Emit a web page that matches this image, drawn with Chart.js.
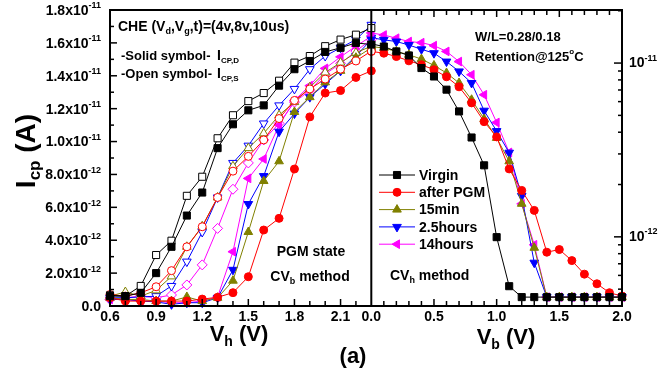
<!DOCTYPE html>
<html>
<head>
<meta charset="utf-8">
<script src="https://cdn.jsdelivr.net/npm/chart.js@4.4.1/dist/chart.umd.min.js"></script>
<style>
  html, body { margin: 0; padding: 0; background: #fff; }
  #wrap { position: relative; width: 672px; height: 376px; }
</style>
</head>
<body>
<div id="wrap"><canvas id="chart" width="672" height="376"></canvas></div>
<script>
'use strict';

// x values of both panels (V)
const vh = [0.6, 0.7, 0.8, 0.9, 1.0, 1.1, 1.2, 1.3, 1.4, 1.5, 1.6, 1.7, 1.8, 1.9, 2.0, 2.1, 2.2, 2.3];
const vb = [0.0, 0.1, 0.2, 0.3, 0.4, 0.5, 0.6, 0.7, 0.8, 0.9, 1.0, 1.1, 1.2, 1.3, 1.4, 1.5, 1.6, 1.7, 1.8, 1.9, 2.0];

const seriesNames = ['Virgin', 'after PGM', '15min', '2.5hours', '14hours'];
const seriesColors = ['#000000', '#ff0000', '#808000', '#0000ff', '#ff00ff'];

// left panel (CVb method), Icp in units of 1e-12 A
// D = solid symbols (Icp,D), S = open symbols (Icp,S)
const virginD = [0.6, 0.6, 0.8, 2.0, 3.6, 5.5, 6.9, 9.6, 11.05, 11.9, 12.2, 13.4, 14.4, 14.9, 15.45, 15.7, 16.0, 15.9];
const virginS = [0.65, 0.6, 1.22, 3.1, 3.97, 6.7, 7.86, 10.2, 11.6, 12.46, 12.95, 13.7, 14.8, 15.2, 15.8, 16.2, 16.5, 16.9];
const pgmD = [0.5, 0.3, 0.3, 0.3, 0.3, 0.3, 0.42, 0.53, 0.81, 1.78, 4.62, 5.33, 8.33, 11.5, 12.95, 13.1, 13.9, 14.3];
const pgmS = [0.7, 0.6, 0.8, 1.17, 2.15, 3.6, 4.82, 6.6, 8.2, 9.1, 10.1, 11.4, 12.5, 13.2, 13.8, 14.4, 14.9, 15.5];
const min15D = [0.5, 0.4, 0.4, 0.3, 0.3, 0.55, 0.3, 0.5, 1.54, 4.5, 7.6, 8.8, 11.8, 12.7, 13.6, 14.3, 15.1, 15.7];
const min15S = [0.6, 0.85, 0.6, 0.95, 1.8, 3.6, 4.85, 6.6, 8.5, 9.6, 10.5, 11.6, 12.4, 13.3, 14.2, 14.8, 15.4, 15.8];
const h25D = [0.4, 0.4, 0.3, 0.25, 0.1, 0.2, 0.2, 0.5, 2.2, 6.2, 7.9, 10.6, 11.7, 12.7, 13.5, 14.3, 15.2, 16.2];
const h25S = [0.5, 0.5, 0.55, 0.6, 1.22, 2.7, 4.5, 6.6, 8.7, 9.75, 11.1, 12.2, 13.2, 14.4, 15.2, 15.7, 16.2, 17.1];
const h14D = [0.4, 0.4, 0.3, 0.3, 0.2, 0.2, 0.3, 0.55, 3.3, 7.76, 8.94, 11.0, 12.5, 13.4, 14.45, 15.15, 15.8, 16.4];
const h14S = [0.4, 0.5, 0.6, 0.5, 0.67, 1.28, 2.5, 4.72, 7.1, 8.7, 10.1, 11.1, 12.4, 13.1, 14.1, 14.75, 15.5, 16.2];

// right panel (CVh method), Icp in A, log axis
const virginB = [1.29e-11, 1.245e-11, 1.167e-11, 1.106e-11, 9.36e-12, 8.37e-12, 7.03e-12, 5.27e-12, 3.73e-12, 2.58e-12, 9.96e-13, 5.2e-13, 4.5e-13, 4.5e-13, 4.5e-13, 4.5e-13, 4.5e-13, 4.5e-13, 4.5e-13, 4.5e-13, 4.5e-13];
const pgmB = [1.167e-11, 1.14e-11, 1.09e-11, 1.03e-11, 9.78e-12, 9.15e-12, 8.34e-12, 7.3e-12, 5.9e-12, 4.6e-12, 3.76e-12, 2.46e-12, 1.85e-12, 1.42e-12, 8.16e-13, 8.45e-13, 7.3e-13, 6.1e-13, 5.37e-13, 4.77e-13, 4.56e-13];
const min15B = [1.245e-11, 1.22e-11, 1.167e-11, 1.116e-11, 1.054e-11, 9.69e-12, 8.77e-12, 7.68e-12, 6.15e-12, 4.77e-12, 3.71e-12, 2.72e-12, 1.55e-12, 8.65e-13, 4.5e-13, 4.5e-13, 4.5e-13, 4.5e-13, 4.5e-13, 4.5e-13, 4.5e-13];
const h25B = [1.40e-11, 1.36e-11, 1.33e-11, 1.27e-11, 1.20e-11, 1.14e-11, 1.02e-11, 8.95e-12, 7.68e-12, 5.32e-12, 4.06e-12, 3.05e-12, 1.72e-12, 7.1e-13, 4.5e-13, 4.5e-13, 4.5e-13, 4.5e-13, 4.5e-13, 4.5e-13, 4.5e-13];
const h14B = [1.49e-11, 1.45e-11, 1.39e-11, 1.33e-11, 1.31e-11, 1.26e-11, 1.167e-11, 1.02e-11, 8.57e-12, 6.57e-12, 4.55e-12, 3.06e-12, 1.55e-12, 9.0e-13, 4.5e-13, 4.5e-13, 4.5e-13, 4.5e-13, 4.5e-13, 4.5e-13, 4.5e-13];

// tick labels
const vhTickLabels = ['0.6', '0.9', '1.2', '1.5', '1.8', '2.1'];
const vbTickLabels = ['0.0', '0.5', '1.0', '1.5', '2.0'];
const icpTicks = [0, 2, 4, 6, 8, 10, 12, 14, 16, 18];
const icpTickMant = ['0.0', '2.0x10', '4.0x10', '6.0x10', '8.0x10', '1.0x10', '1.2x10', '1.4x10', '1.6x10', '1.8x10'];
const icpTickExp = ['', '-12', '-12', '-12', '-12', '-11', '-11', '-11', '-11', '-11'];
const logTicks = [1e-12, 1e-11];
const logTickExp = ['-12', '-11'];

// marker shapes: [style, radius, rotation]
const solidMarks = [['rect', 5, 0], ['circle', 4, 0], ['triangle', 5, 0], ['triangle', 5, 180], ['triangle', 5, -90]];
const openMarks = [['rect', 5, 0], ['circle', 4, 0], ['triangle', 5, 0], ['triangle', 5, 180], ['rectRot', 5, 0]];

const FONT = 'Arial, "Liberation Sans", sans-serif';

function pts(xs, ys) {
  return xs.map((x, i) => ({ x: x, y: ys[i] }));
}

function makeSet(name, xs, ys, i, mark, filled, xId, yId) {
  return {
    label: name,
    data: pts(xs, ys),
    xAxisID: xId,
    yAxisID: yId,
    borderColor: seriesColors[i],
    borderWidth: 1,
    pointStyle: mark[0],
    pointRadius: mark[1],
    pointRotation: mark[2],
    pointBorderColor: seriesColors[i],
    pointBackgroundColor: filled ? seriesColors[i] : '#ffffff',
    pointBorderWidth: 1,
    tension: 0,
    clip: false
  };
}

const leftD = [virginD, pgmD, min15D, h25D, h14D];
const leftS = [virginS, pgmS, min15S, h25S, h14S];
const rightB = [virginB, pgmB, min15B, h25B, h14B];

let datasets = [];
for (let i = 0; i < 5; i++) {
  datasets.push(makeSet(seriesNames[i] + ' D', vh, leftD[i], i, solidMarks[i], true, 'xL', 'yL'));
  datasets.push(makeSet(seriesNames[i] + ' S', vh, leftS[i], i, openMarks[i], false, 'xL', 'yL'));
}
for (let i = 0; i < 5; i++) {
  datasets.push(makeSet(seriesNames[i], vb, rightB[i], i, solidMarks[i], true, 'xR', 'yR'));
}

function setFont(ctx, size) {
  ctx.font = 'bold ' + size + 'px ' + FONT;
}

// draw text made of parts [text, size, dy]
function richText(ctx, parts, x, y, align) {
  let total = 0;
  const widths = parts.map(p => {
    setFont(ctx, p[1]);
    const w = ctx.measureText(p[0]).width;
    total += w;
    return w;
  });
  let cx = x;
  if (align === 'right') cx = x - total;
  else if (align === 'center') cx = x - total / 2;
  ctx.textAlign = 'left';
  ctx.textBaseline = 'middle';
  parts.forEach((p, i) => {
    setFont(ctx, p[1]);
    ctx.fillText(p[0], cx, y + (p[2] || 0));
    cx += widths[i];
  });
}

function line(ctx, x1, y1, x2, y2) {
  ctx.beginPath();
  ctx.moveTo(x1, y1);
  ctx.lineTo(x2, y2);
  ctx.stroke();
}

const framePlugin = {
  id: 'frame',
  afterDatasetsDraw(chart) {
    const ctx = chart.ctx;
    const a = chart.chartArea;
    const xL = chart.scales.xL, xR = chart.scales.xR, yL = chart.scales.yL, yR = chart.scales.yR;
    ctx.save();
    ctx.strokeStyle = '#000';

    // inward ticks
    ctx.lineWidth = 1.5;
    for (let v = 0; v <= 18; v++) {
      const y = yL.getPixelForValue(v);
      line(ctx, a.left, y, a.left + (v % 2 === 0 ? 7 : 4), y);
    }
    for (let k = 6; k < 23; k++) {
      const x = xL.getPixelForValue(k / 10);
      line(ctx, x, a.bottom, x, a.bottom - (k % 3 === 0 ? 7 : 5));
    }
    for (let k = 1; k < 20; k++) {
      const x = xR.getPixelForValue(k / 10);
      const len = k % 5 === 0 ? 7 : 5;
      line(ctx, x, a.bottom, x, a.bottom - len);
      line(ctx, x, a.top, x, a.top + len);
    }
    for (let e = -13; e <= -11; e++) {
      for (let m = 1; m <= 9; m++) {
        const v = m * Math.pow(10, e);
        if (v < yR.min || v > yR.max) continue;
        const y = yR.getPixelForValue(v);
        line(ctx, a.right, y, a.right - (m === 1 ? 8 : 4), y);
      }
    }

    // frame and divider
    ctx.lineWidth = 2;
    ctx.strokeRect(a.left, a.top, a.right - a.left, a.bottom - a.top);
    const xd = xR.getPixelForValue(0);
    line(ctx, xd, a.top, xd, a.bottom);
    ctx.restore();
  },
  afterDraw(chart) {
    const ctx = chart.ctx;
    const a = chart.chartArea;
    const xL = chart.scales.xL, xR = chart.scales.xR, yL = chart.scales.yL, yR = chart.scales.yR;
    ctx.save();
    ctx.fillStyle = '#000';

    // tick labels
    icpTicks.forEach((v, i) => {
      const y = yL.getPixelForValue(v) + 1;
      const parts = [[icpTickMant[i], 14, 0]];
      if (icpTickExp[i]) parts.push([icpTickExp[i], 9, -5]);
      richText(ctx, parts, 101, y, 'right');
    });
    logTicks.forEach((v, i) => {
      richText(ctx, [['10', 14, 0], [logTickExp[i], 9, -5]], 629, yR.getPixelForValue(v), 'left');
    });
    vhTickLabels.forEach(t => {
      richText(ctx, [[t, 14, 0]], xL.getPixelForValue(parseFloat(t)), a.bottom + 11, 'center');
    });
    vbTickLabels.forEach(t => {
      richText(ctx, [[t, 14, 0]], xR.getPixelForValue(parseFloat(t)), a.bottom + 11, 'center');
    });

    // axis titles
    richText(ctx, [['V', 22, 0], ['h', 14, 7], [' (V)', 22, 0]], 239, 335, 'center');
    richText(ctx, [['V', 22, 0], ['b', 14, 7], [' (V)', 22, 0]], 506, 338, 'center');
    richText(ctx, [['(a)', 22, 0]], 353, 357, 'center');
    ctx.save();
    ctx.translate(27, 151);
    ctx.rotate(-Math.PI / 2);
    richText(ctx, [['I', 28, 0], ['cp', 17, 8], [' (A)', 28, 0]], 0, 0, 'center');
    ctx.restore();

    // annotations
    richText(ctx, [['CHE (V', 14, 0], ['d', 9, 5], [',V', 14, 0], ['g', 9, 5], [',t)=(4v,8v,10us)', 14, 0]], 118, 27, 'left');
    richText(ctx, [['-Solid symbol-', 13, 0]], 121, 56, 'left');
    richText(ctx, [['I', 14, 0], ['CP,D', 8, 5]], 217, 56, 'left');
    richText(ctx, [['-Open symbol-', 13, 0]], 121, 74, 'left');
    richText(ctx, [['I', 14, 0], ['CP,S', 8, 5]], 217, 74, 'left');
    richText(ctx, [['PGM state', 14, 0]], 311, 252, 'center');
    richText(ctx, [['CV', 14, 0], ['b', 9, 5], [' method', 14, 0]], 310, 277, 'center');
    richText(ctx, [['W/L=0.28/0.18', 13, 0]], 475, 37, 'left');
    richText(ctx, [['Retention@125', 13, 0], ['o', 8, -5], ['C', 13, 0]], 475, 57, 'left');
    richText(ctx, [['CV', 14, 0], ['h', 9, 5], [' method', 14, 0]], 390, 276, 'left');

    // legend
    seriesNames.forEach((name, i) => {
      const y = 175 + i * 17.3;
      ctx.strokeStyle = seriesColors[i];
      ctx.fillStyle = seriesColors[i];
      ctx.lineWidth = 1;
      line(ctx, 379, y, 415, y);
      Chart.helpers.drawPoint(ctx, {
        pointStyle: solidMarks[i][0],
        radius: solidMarks[i][1],
        rotation: solidMarks[i][2],
        borderWidth: 1
      }, 397, y);
      ctx.fillStyle = '#000';
      richText(ctx, [[name, 14, 0]], 419, y + 1, 'left');
    });
    ctx.restore();
  }
};

const ctx = document.getElementById('chart').getContext('2d');

const chart = new Chart(ctx, {
  type: 'line',
  data: { datasets: datasets },
  options: {
    responsive: false,
    animation: false,
    devicePixelRatio: 1,
    layout: { padding: { top: 10, left: 0, right: 0, bottom: 0 } },
    plugins: { legend: { display: false }, tooltip: { enabled: false } },
    scales: {
      xL: {
        type: 'linear', position: 'bottom', stack: 'x', stackWeight: 261.3,
        min: 0.6, max: 2.3,
        ticks: { display: false },
        grid: { display: false },
        border: { display: false },
        afterFit: s => { s.height = 70; }
      },
      xR: {
        type: 'linear', position: 'bottom', stack: 'x', stackWeight: 250.7,
        min: 0, max: 2.0,
        ticks: { display: false },
        grid: { display: false },
        border: { display: false },
        afterFit: s => { s.height = 70; }
      },
      yL: {
        type: 'linear', position: 'left',
        min: 0, max: 18,
        ticks: { display: false },
        grid: { display: false },
        border: { display: false },
        afterFit: s => { s.width = 110; }
      },
      yR: {
        type: 'logarithmic', position: 'right',
        min: 4e-13, max: 2.02e-11,
        ticks: { display: false },
        grid: { display: false },
        border: { display: false },
        afterFit: s => { s.width = 50; }
      }
    }
  },
  plugins: [framePlugin]
});
</script>
</body>
</html>
